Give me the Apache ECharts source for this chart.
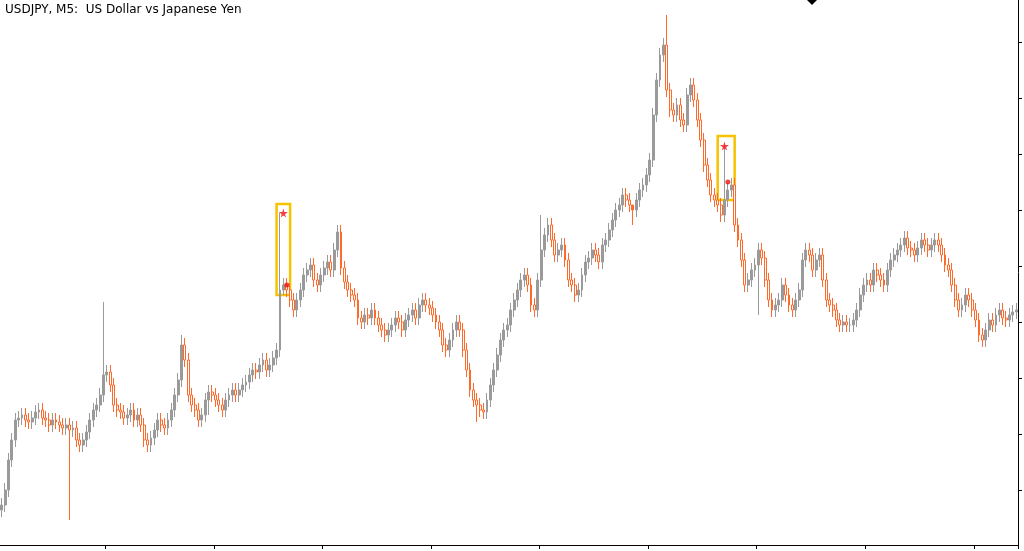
<!DOCTYPE html><html><head><meta charset="utf-8"><script src="https://cdn.jsdelivr.net/npm/echarts@6/dist/echarts.min.js"></script>
<style>html,body{margin:0;background:#fff}#c{width:1024px;height:551px}</style></head><body><div id="c"></div><script>
// price in points above chart base
const closes=[40,55,85,105,125,127,130,125,123,127,
133,135,127,125,120,125,123,120,117,120,
115,117,105,100,105,113,125,135,140,150,
170,173,160,140,135,133,127,130,135,125,
130,120,105,100,107,115,125,120,117,125,
135,150,165,200,185,150,140,135,125,130,
145,153,150,145,140,135,145,150,155,150,
155,160,163,170,175,173,180,185,175,180,
187,195,255,260,255,245,235,245,255,270,
275,280,265,260,270,277,283,275,295,313,
277,263,255,250,245,227,223,230,227,235,
227,220,215,210,215,220,227,223,215,225,
230,235,227,240,245,240,237,230,223,215,
200,195,205,215,223,215,195,175,155,145,
140,135,133,145,160,175,190,205,215,220,
235,245,255,265,270,260,240,235,265,295,
310,320,305,290,295,300,285,265,260,250,
255,270,283,287,295,290,283,300,305,315,
325,335,340,350,345,340,335,345,355,360,
370,385,430,465,490,500,455,435,430,440,
425,420,450,460,445,425,405,380,365,350,
345,340,330,345,355,360,320,305,285,260,
265,275,280,295,287,265,245,235,240,245,
260,250,240,235,245,255,285,295,290,275,
285,290,265,245,240,235,225,220,223,220,
220,225,235,250,260,265,260,275,270,265,
260,275,285,290,295,300,307,297,295,290,
297,305,300,295,300,305,300,290,280,275,
260,245,235,240,250,245,235,225,210,205,
215,225,220,230,235,227,225,230,233,235];
const bigHighs={82:332,196:530,213:399,53:210,30:243,99:320,159:330,186:320};
const bigLows={20:25,61:130,83:250,140:123,223:230};
const yTicks=[55,111,167,223,279,335,391,447,503];
const cats=closes.map((_,i)=>i);
const ohlc=closes.map((c,i)=>{const o=i?closes[i-1]:c-5;let h=Math.max(o,c)+7,l=Math.min(o,c)-7;
 if(bigHighs[i])h=bigHighs[i];if(bigLows[i])l=bigLows[i];return [o,c,l,h];});
const star='path://M50,0 L61,35 L98,35 L68,57 L79,91 L50,70 L21,91 L32,57 L2,35 L39,35 Z';
const ch=echarts.init(document.getElementById('c'));
ch.setOption({animation:false,
 title:{text:'USDJPY, M5:  US Dollar vs Japanese Yen',left:0,top:-1,textStyle:{fontSize:12,fontWeight:'normal',color:'#000',fontFamily:'DejaVu Sans'}},
 graphic:[{type:'polygon',shape:{points:[[807,0],[812,-5],[817,0],[812,5]]},style:{fill:'#000'}}],
 grid:{left:0,right:6,top:0,bottom:6},
 xAxis:{type:'category',data:cats,boundaryGap:true,axisLine:{lineStyle:{color:'#000'}},
  axisTick:{show:true,interval:(i)=>i%32===31,length:4,lineStyle:{color:'#000'}},axisLabel:{show:false},splitLine:{show:false}},
 yAxis:{type:'value',position:'right',min:0,max:545,splitLine:{show:false},
  axisLine:{show:true,lineStyle:{color:'#000'}},axisTick:{show:true,length:4,customValues:yTicks,lineStyle:{color:'#000'}},axisLabel:{show:false}},
 series:[{type:'candlestick',data:ohlc,barWidth:'70%',
   itemStyle:{color:'#9a9a9a',color0:'#ffffff',borderColor:'#9a9a9a',borderColor0:'#ff6a2a',borderWidth:1},
   markArea:{silent:true,itemStyle:{color:'rgba(0,0,0,0)',borderColor:'#f7c200',borderWidth:2.5},
    data:[[{xAxis:81,yAxis:250},{xAxis:85,yAxis:341}],[{xAxis:211,yAxis:345},{xAxis:216,yAxis:409}]]}},
  {type:'scatter',symbol:star,symbolSize:9,itemStyle:{color:'#ee1111'},data:[[83,332],[213,399]]},
  {type:'scatter',symbol:'circle',symbolSize:5,itemStyle:{color:'#ee1111'},data:[[84,260],[214,363]]}]});
</script></body></html>
